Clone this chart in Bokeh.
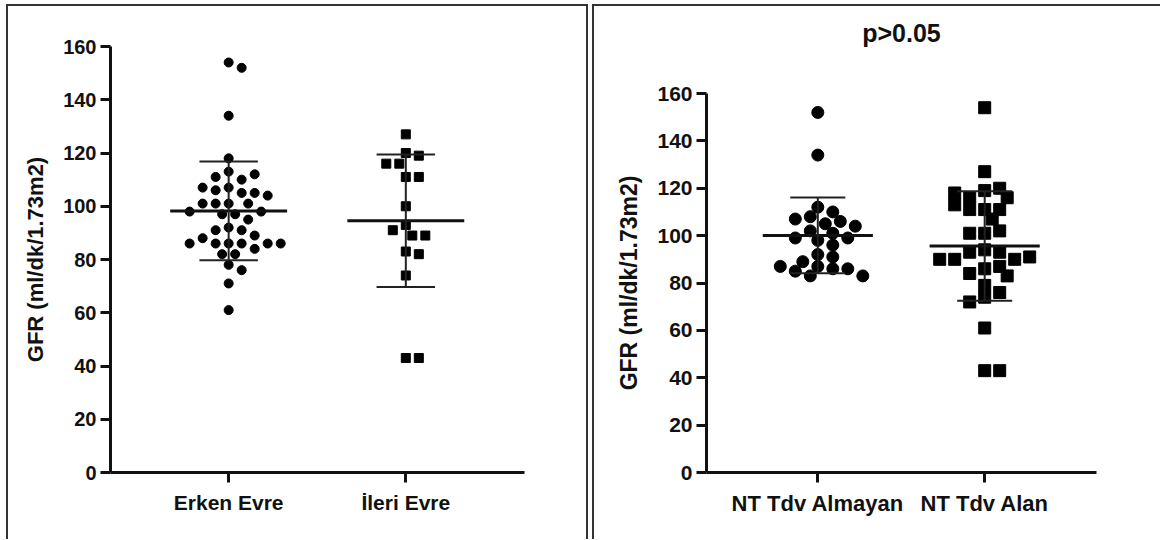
import numpy as np
from bokeh.plotting import figure
from bokeh.models import FixedTicker, Range1d
from bokeh.layouts import row, column
from bokeh.embed import file_html
from bokeh.resources import INLINE

# ---------------- data ----------------
left_categories = ["Erken Evre", "İleri Evre"]
erken_evre = [154, 152, 134, 118, 113, 110, 111, 112, 107, 106, 105, 105, 107, 104,
              101, 101, 101, 101, 97, 97, 98, 98, 95, 92, 91, 91, 89, 88, 86, 86,
              86, 86, 86, 86, 84, 82, 82, 78, 76, 71, 61]
ileri_evre = [127, 120, 119, 116, 116, 111, 111, 100, 93, 89, 91, 89, 83, 82, 74, 43, 43]

right_categories = ["NT Tdv Almayan", "NT Tdv Alan"]
nt_tdv_almayan = [152, 134, 112, 110, 108, 107, 105, 106, 104, 102, 101, 98, 99, 99,
                  96, 92, 91, 89, 87, 86, 86, 85, 83, 87, 83]
nt_tdv_alan = [154, 127, 119, 120, 116, 116, 118, 111, 111, 113, 111, 107, 101, 102,
               101, 94, 93, 93, 90, 90, 91, 90, 86, 87, 84, 83, 79, 76, 74, 72, 61,
               43, 43]

y_ticks = [0, 20, 40, 60, 80, 100, 120, 140, 160]
y_label = "GFR (ml/dk/1.73m2)"
right_title = "p>0.05"

FONT = "Liberation Sans"
INK = "#111111"


def swarm(vals, px_per_y, px_per_x, diam, step, gap):
    """Simple beeswarm: horizontal offsets (in data units) avoiding overlap."""
    placed = []
    offs = []
    cands = [0.0]
    for i in range(1, 60):
        cands += [i * step, -i * step]
    lim = (diam * gap) ** 2
    for v in vals:
        y = v * px_per_y
        chosen = 0.0
        for c in cands:
            if all((c - px) ** 2 + (y - py) ** 2 >= lim for px, py in placed):
                chosen = c
                break
        placed.append((chosen, y))
        offs.append(chosen / px_per_x)
    return offs


def make_panel(cats, groups, size, step, gap, width, height, mb, px_x, px_y, fonts,
               border_css, margin, title=None):
    tick_fs, cat_fs, lab_fs = fonts
    p = figure(width=width, height=height, output_backend="svg", toolbar_location=None,
               x_range=Range1d(0.333, 2.67), y_range=Range1d(0, 160),
               min_border_left=mb[0], min_border_right=mb[1],
               min_border_top=mb[2], min_border_bottom=mb[3])
    p.styles = border_css
    p.margin = margin
    p.grid.visible = False
    p.outline_line_color = None
    p.background_fill_color = "white"
    p.border_fill_color = "white"

    for i, (vals, mk) in enumerate(zip(groups, ["circle", "square"])):
        c = i + 1
        offs = swarm(vals, px_y, px_x, size, step, gap)
        xs = [c + o for o in offs]
        p.scatter(xs, vals, marker=mk, size=size, color="black")
        arr = np.array(vals, dtype=float)
        m = arr.mean()
        sd = arr.std(ddof=1)
        p.segment(x0=[c - 0.33], y0=[m], x1=[c + 0.33], y1=[m],
                  line_color=INK, line_width=3)
        p.segment(x0=[c - 0.165, c - 0.165, c], y0=[m + sd, m - sd, m - sd],
                  x1=[c + 0.165, c + 0.165, c], y1=[m + sd, m - sd, m + sd],
                  line_color="#222222", line_width=2)

    p.xaxis.ticker = FixedTicker(ticks=[1, 2])
    p.xaxis.major_label_overrides = {1: cats[0], 2: cats[1]}
    p.yaxis.ticker = FixedTicker(ticks=y_ticks)
    for ax in (p.xaxis, p.yaxis):
        ax.axis_line_width = 3
        ax.axis_line_color = INK
        ax.major_tick_line_width = 3
        ax.major_tick_line_color = INK
        ax.major_tick_out = 10
        ax.major_tick_in = 0
        ax.minor_tick_out = 0
        ax.minor_tick_in = 0
        ax.major_label_text_font = FONT
        ax.major_label_text_font_style = "bold"
        ax.major_label_text_color = INK
    p.yaxis.major_label_text_font_size = tick_fs
    p.xaxis.major_label_text_font_size = cat_fs
    p.yaxis.major_label_standoff = 4
    p.xaxis.major_label_standoff = 8
    p.yaxis.axis_label = y_label
    p.yaxis.axis_label_text_font = FONT
    p.yaxis.axis_label_text_font_style = "bold"
    p.yaxis.axis_label_text_font_size = lab_fs
    p.yaxis.axis_label_text_color = INK
    p.yaxis.axis_label_standoff = 12

    if title:
        p.title.text = title + "\n "
        p.title.align = "center"
        p.title.vertical_align = "bottom"
        p.title.text_font = FONT
        p.title.text_font_style = "bold"
        p.title.text_font_size = "25px"
        p.title.text_line_height = 1.5
        p.title.text_color = INK
        p.title.standoff = 10
    return p


left = make_panel(left_categories, [erken_evre, ileri_evre],
                  9, 6.5, 1.3, 582, 535, (102, 66, 40, 69), 177.0, 2.6625,
                  ("20px", "21px", "22px"),
                  {"border-top": "2px solid #333", "border-left": "2px solid #333",
                   "border-right": "2px solid #333", "box-sizing": "border-box"},
                  (4, 0, 0, 6))
right = make_panel(right_categories, [nt_tdv_almayan, nt_tdv_alan],
                   12, 7.5, 0.95, 568, 535, (112, 66, 87, 69), 166.9, 2.369,
                   ("21px", "22px", "23px"),
                   {"border-top": "2px solid #333", "border-left": "2px solid #333",
                    "box-sizing": "border-box"},
                   (4, 0, 0, 4),
                   title=right_title)

layout = row(column(left), column(right), spacing=0)
open("out.html", "w").write(file_html(layout, INLINE))
